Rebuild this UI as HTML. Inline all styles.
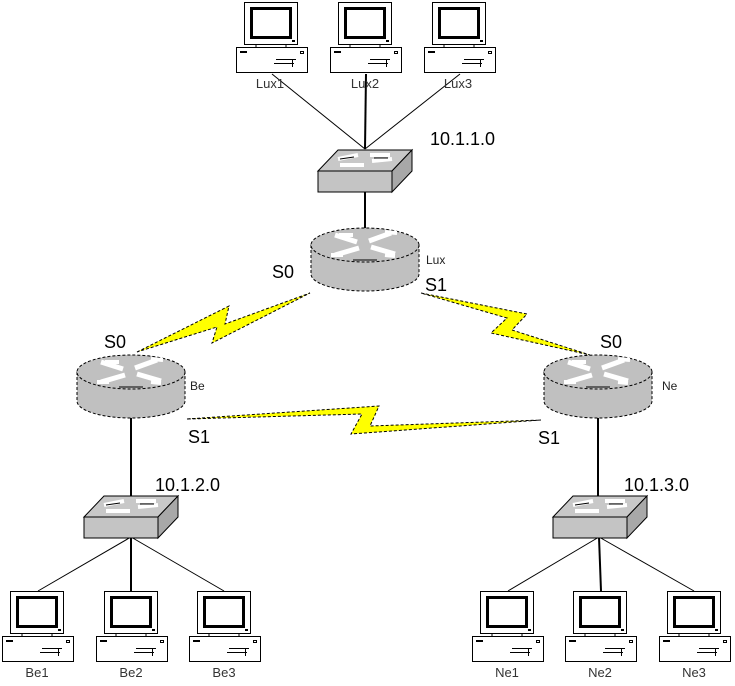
<!DOCTYPE html>
<html><head><meta charset="utf-8"><style>
html,body{margin:0;padding:0;background:#fff;}
svg{display:block;}
text{font-family:"Liberation Sans",Arial,sans-serif;}
</style></head><body>
<svg width="735" height="686" viewBox="0 0 735 686" xmlns="http://www.w3.org/2000/svg">
<defs>
<g id="pc">
  <rect x="8.5" y="0.5" width="53" height="42" fill="#fff" stroke="#000"/>
  <rect x="15.5" y="6.5" width="39" height="29" fill="none" stroke="#000" stroke-width="3"/>
  <rect x="56" y="38" width="3" height="2" fill="#000"/>
  <line x1="20" y1="42" x2="20" y2="45" stroke="#000"/>
  <line x1="50" y1="42" x2="50" y2="45" stroke="#000"/>
  <rect x="0.5" y="45.5" width="71" height="25" fill="#fff" stroke="#000"/>
  <rect x="4" y="49" width="7" height="2" fill="#000"/>
  <line x1="40" y1="57.5" x2="60" y2="57.5" stroke="#000"/>
  <line x1="38" y1="61.5" x2="58" y2="61.5" stroke="#000"/>
  <line x1="56.5" y1="58" x2="56.5" y2="65" stroke="#000"/>
  <rect x="64.5" y="49.5" width="3" height="2" fill="none" stroke="#000"/>
</g>
<g id="router">
  <path d="M-54,0 L-54,29 A54,17 0 0 0 54,29 L54,0 Z" fill="#c0c0c0" stroke="#000" stroke-dasharray="3,2"/>
  <ellipse cx="0" cy="0" rx="54" ry="17" fill="#c0c0c0" stroke="#000" stroke-dasharray="3,2"/>
  <path d="M-30,-10 L-8,-3 M4,-4 L26,-12" stroke="#fff" stroke-width="5"/>
  <path d="M-30,10 L-6,3 M6,2 L30,9" stroke="#fff" stroke-width="5"/>
  <path d="M-26,-10 L-12,-10 M20,-13 L32,-12 M-34,10 L-22,10 M20,10 L30,11" stroke="#fff" stroke-width="4"/>
  <line x1="-12" y1="15" x2="12" y2="15" stroke="#000"/>
</g>
<g id="switch">
  <polygon points="0,21 20,0 94,0 74,21" fill="#c8c8c8" stroke="#000"/>
  <polygon points="74,21 94,0 94,21 74,42" fill="#a8a8a8" stroke="#000"/>
  <rect x="0" y="21" width="74" height="21" fill="#c4c4c4" stroke="#000"/>
  <path d="M20,9 L40,5 M52,5 L72,5 M22,15 L46,15 M54,11 L74,9" stroke="#fff" stroke-width="4"/>
  <path d="M22,9 L36,7 M56,8 L70,8" stroke="#000" stroke-width="1"/>
</g>
</defs>

<g stroke="#000" stroke-width="1">
  <line x1="272" y1="74" x2="365" y2="149"/>
  <line x1="366" y1="74" x2="365" y2="149" stroke-width="2"/>
  <line x1="460" y1="74" x2="365" y2="149"/>
  <line x1="365" y1="192" x2="365" y2="230" stroke-width="2"/>
  <line x1="131" y1="418" x2="131" y2="497" stroke-width="2"/>
  <line x1="131" y1="537" x2="38" y2="591"/>
  <line x1="131" y1="537" x2="131" y2="591" stroke-width="2"/>
  <line x1="131" y1="537" x2="224" y2="591"/>
  <line x1="598" y1="418" x2="598" y2="497" stroke-width="2"/>
  <line x1="599" y1="537" x2="508" y2="591"/>
  <line x1="599" y1="537" x2="601" y2="591" stroke-width="2"/>
  <line x1="599" y1="537" x2="694" y2="591"/>
</g>

<g fill="#ffff00" stroke="#000" stroke-width="1" stroke-dasharray="3,2">
  <polygon points="137,352 229,306 225,324 310,293 212,343 217,327"/>
  <polygon points="421,293 527,314 512,330 590,355 491,333 507,318"/>
  <polygon points="187,419 379,406 370,426 541,420 351,434 362,414"/>
</g>

<use href="#switch" x="318" y="150"/>
<use href="#switch" x="84" y="496"/>
<use href="#switch" x="553" y="496"/>

<use href="#router" x="365" y="245"/>
<use href="#router" x="131" y="372"/>
<use href="#router" x="598" y="372"/>

<use href="#pc" x="236" y="2"/>
<use href="#pc" x="330" y="2"/>
<use href="#pc" x="424" y="2"/>
<use href="#pc" x="2" y="591"/>
<use href="#pc" x="96" y="591"/>
<use href="#pc" x="189" y="591"/>
<use href="#pc" x="472" y="591"/>
<use href="#pc" x="565" y="591"/>
<use href="#pc" x="659" y="591"/>

<g font-size="13" fill="#333" text-anchor="middle">
  <text x="270" y="88">Lux1</text>
  <text x="365" y="88">Lux2</text>
  <text x="458" y="88">Lux3</text>
  <text x="37" y="677">Be1</text>
  <text x="131" y="677">Be2</text>
  <text x="224" y="677">Be3</text>
  <text x="507" y="677">Ne1</text>
  <text x="600" y="677">Ne2</text>
  <text x="694" y="677">Ne3</text>
</g>
<g font-size="12" fill="#222">
  <text x="426" y="264">Lux</text>
  <text x="190" y="390">Be</text>
  <text x="662" y="390">Ne</text>
</g>
<g font-size="18" fill="#000">
  <text x="430" y="145">10.1.1.0</text>
  <text x="155" y="491">10.1.2.0</text>
  <text x="624" y="491">10.1.3.0</text>
  <text x="272" y="278">S0</text>
  <text x="425" y="291">S1</text>
  <text x="104" y="348">S0</text>
  <text x="188" y="443">S1</text>
  <text x="600" y="348">S0</text>
  <text x="538" y="444">S1</text>
</g>
</svg>
</body></html>
